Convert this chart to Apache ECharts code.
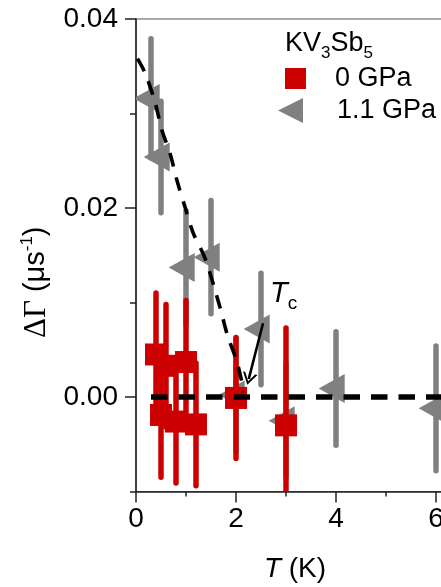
<!DOCTYPE html>
<html><head><meta charset="utf-8">
<script src="https://cdn.jsdelivr.net/npm/echarts@6/dist/echarts.min.js"></script>
<style>html,body{margin:0;padding:0;background:#fff}#c{width:441px;height:587px}</style>
</head><body><div id="c"></div>
<script>
// ---- data ----
const xTickValues = [0, 2, 4, 6];
const yTickValues = [0, 0.02, 0.04];
const yMinorTickValues = [-0.01, 0.01, 0.03];

const T_0GPa   = [0.4, 0.5, 0.6, 0.8, 1.0, 1.2, 2.0, 3.0];
const dG_0GPa  = [0.0045, -0.0019, 0.0033, -0.0026, 0.0037, -0.0029, -0.0001, -0.0030];
const err_0GPa = [0.0065, 0.0066, 0.0065, 0.0065, 0.0065, 0.0065, 0.0064, 0.0103];

const T_11GPa   = [0.3, 0.5, 1.0, 1.5, 2.0, 2.5, 3.0, 4.0, 6.0];
const dG_11GPa  = [0.0316, 0.0254, 0.0137, 0.0148, 0.0002, 0.0072, -0.0025, 0.0009, -0.0012];
const err_11GPa = [0.0063, 0.0059, 0.0060, 0.0060, 0.0060, 0.0059, 0.0060, 0.0060, 0.0066];

const guideT  = [0.03, 0.18, 0.38, 0.52, 0.68, 0.82, 0.98, 1.14, 1.38, 1.68, 1.82, 2.02, 2.12, 2.15];
const guideDG = [0.0358, 0.0343, 0.0312, 0.0282, 0.0258, 0.0229, 0.0201, 0.0174, 0.0147, 0.0095, 0.0067, 0.0037, 0.0015, 0.0005];

const baselineT  = [0.3, 7];
const baselineDG = [0, 0];

const tcArrowFrom = [2.54, 0.0078];
const tcArrowTo   = [2.255, 0.0019];

const X_MIN = 0, X_MAX = 7, Y_MIN = -0.01, Y_MAX = 0.04;

// ---- styles ----
const RED = '#CC0000', GRAY = '#808080', AXIS = '#222';
const FONT = 'Liberation Sans';
const TRI = 'path://M0,50 L100,0 L100,100 Z';
const CHEVRON = 'path://M7.5,0 L15,12 L12.6,12 L7.5,3.6 L2.4,12 L0,12 Z';
const TRI_W = 26, TRI_H = 29;

function errSeries(T, V, E, color, z) {
  return {
    type: 'custom', z: z, silent: true, clip: true,
    data: T.map((t, i) => [t, V[i] - E[i], V[i] + E[i]]),
    encode: { x: 0, y: [1, 2] },
    renderItem: function (params, api) {
      const p1 = api.coord([api.value(0), api.value(1)]);
      const p2 = api.coord([api.value(0), api.value(2)]);
      return { type: 'line', shape: { x1: p1[0], y1: p1[1], x2: p2[0], y2: p2[1] },
               style: { stroke: color, lineWidth: 5.5, lineCap: 'round' } };
    }
  };
}

const chart = echarts.init(document.getElementById('c'), null, { renderer: 'canvas' });
chart.setOption({
  animation: false,
  backgroundColor: '#fff',
  textStyle: { fontFamily: FONT, color: '#000' },
  grid: { left: 136, top: 19, right: -45, bottom: 95.5, show: true, borderColor: '#555', borderWidth: 1.2,
          containLabel: false, outerBoundsMode: 'none' },
  title: {
    left: 285, top: 30, padding: 0,
    text: '{a|KV}{s|3}{a|Sb}{s|5}',
    textStyle: { fontWeight: 'normal', rich: {
      a: { fontSize: 27, fontFamily: FONT, fontWeight: 'normal', color: '#000', lineHeight: 32, verticalAlign: 'top' },
      s: { fontSize: 17, fontFamily: FONT, fontWeight: 'normal', color: '#000', lineHeight: 17, verticalAlign: 'bottom' }
    } }
  },
  legend: [
    { data: [{ name: '0 GPa', icon: 'rect' }], orient: 'vertical', left: 285, top: 65, padding: 0,
      itemWidth: 21, itemHeight: 21, selectedMode: false,
      textStyle: { fontSize: 27, fontFamily: FONT, color: '#000', padding: [0, 0, 0, 24] } },
    { data: [{ name: '1.1 GPa', icon: TRI, itemStyle: { color: GRAY } }], orient: 'vertical', left: 278, top: 97, padding: 0,
      itemWidth: 27, itemHeight: 25, selectedMode: false,
      textStyle: { fontSize: 27, fontFamily: FONT, color: '#000', padding: [0, 0, 0, 28] } }
  ],
  xAxis: {
    type: 'value', min: X_MIN, max: X_MAX, interval: 2,
    name: '{i|T} (K)', nameLocation: 'middle', nameGap: 64,
    nameTextStyle: { fontSize: 28, fontFamily: FONT, color: '#000', padding: [0, 32, 0, 0],
                     rich: { i: { fontSize: 28, fontStyle: 'italic', fontFamily: FONT, color: '#000' } } },
    axisLine: { onZero: false, lineStyle: { color: AXIS, width: 1.5 } },
    axisTick: { length: 11, lineStyle: { color: AXIS, width: 1.5 } },
    minorTick: { show: true, splitNumber: 2, length: 5, lineStyle: { color: AXIS, width: 1.5 } },
    axisLabel: { fontSize: 28, color: '#000', margin: 14, customValues: xTickValues },
    splitLine: { show: false }, minorSplitLine: { show: false }
  },
  yAxis: [
    { type: 'value', min: Y_MIN, max: Y_MAX, interval: 0.01, position: 'left',
      name: '{g|ΔΓ} (μs{p|-1})', nameLocation: 'middle', nameGap: 80, nameRotate: 90,
      nameTextStyle: { fontSize: 29, fontFamily: FONT, color: '#000', padding: [0, 54, 0, 0],
        rich: {
          g: { fontSize: 31, fontFamily: 'Liberation Serif', color: '#000', lineHeight: 34, verticalAlign: 'bottom' },
          p: { fontSize: 17, fontFamily: FONT, color: '#000', lineHeight: 17, verticalAlign: 'top' }
        } },
      axisLine: { onZero: false, lineStyle: { color: AXIS, width: 1.5 } },
      axisTick: { length: 11, customValues: yTickValues, lineStyle: { color: AXIS, width: 1.5 } },
      axisLabel: { fontSize: 28, color: '#000', margin: 18, customValues: yTickValues,
                   formatter: v => v.toFixed(2) },
      splitLine: { show: false } },
    { type: 'value', min: Y_MIN, max: Y_MAX, interval: 0.01, position: 'left',
      axisLine: { show: false, onZero: false },
      axisTick: { length: 6, customValues: yMinorTickValues, lineStyle: { color: AXIS, width: 1.5 } },
      axisLabel: { show: false }, splitLine: { show: false } }
  ],
  series: [
    errSeries(T_11GPa, dG_11GPa, err_11GPa, GRAY, 1),
    { name: '1.1 GPa', type: 'custom', z: 2, silent: true, clip: true,
      itemStyle: { color: GRAY },
      data: T_11GPa.map((t, i) => [t, dG_11GPa[i]]),
      encode: { x: 0, y: 1 },
      renderItem: function (params, api) {
        const c = api.coord([api.value(0), api.value(1)]);
        // left-pointing triangle whose centroid sits on the data point
        const tip = c[0] - TRI_W * 2 / 3, base = c[0] + TRI_W / 3;
        return { type: 'polygon', shape: { points: [[tip, c[1]], [base, c[1] - TRI_H / 2], [base, c[1] + TRI_H / 2]] },
                 style: { fill: GRAY } };
      } },
    errSeries(T_0GPa, dG_0GPa, err_0GPa, RED, 3),
    { name: '0 GPa', type: 'scatter', z: 4, symbol: 'rect', symbolSize: 22,
      itemStyle: { color: RED, opacity: 1 }, data: T_0GPa.map((t, i) => [t, dG_0GPa[i]]) },
    { type: 'line', z: 5, silent: true, symbol: 'none', smooth: 0.3,
      lineStyle: { color: '#000', width: 3.6, type: [14, 11] },
      data: guideT.map((t, i) => [t, guideDG[i]]) },
    { type: 'line', z: 5, silent: true, symbol: 'none',
      lineStyle: { color: '#000', width: 5.5, type: [16.5, 11] },
      data: baselineT.map((t, i) => [t, baselineDG[i]]),
      markLine: { silent: true, animation: false, symbol: ['none', CHEVRON], symbolSize: [15, 12],
        label: { show: false }, lineStyle: { color: '#000', width: 2.6, type: 'solid' },
        data: [[{ coord: tcArrowFrom }, { coord: tcArrowTo }]] } }
  ],
  graphic: [
    { type: 'text', left: 270, top: 279, z: 10,
      style: { text: '{t|T}{c|c}', rich: {
        t: { fontSize: 29, fontStyle: 'italic', fontFamily: FONT, fill: '#000', lineHeight: 34, verticalAlign: 'top' },
        c: { fontSize: 19, fontFamily: FONT, fill: '#000', lineHeight: 19, verticalAlign: 'bottom' } } } }
  ]
});
</script></body></html>
